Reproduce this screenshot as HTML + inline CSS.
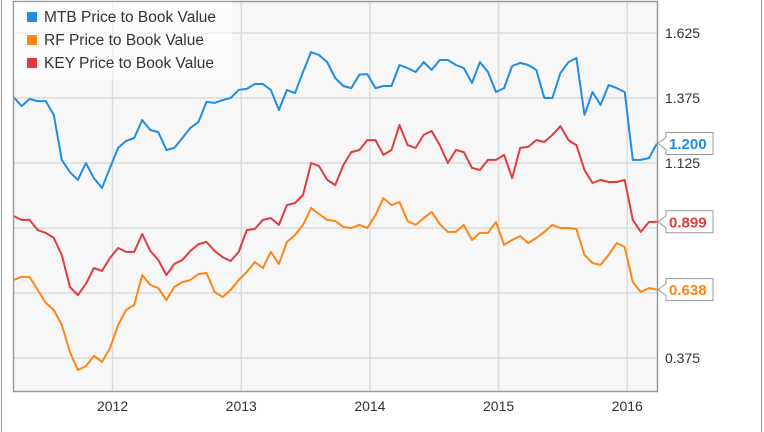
<!DOCTYPE html>
<html><head><meta charset="utf-8"><style>
body{margin:0;background:#fff;}
svg{display:block;font-family:"Liberation Sans",sans-serif;}
</style></head><body>
<svg id="chart" width="764" height="432" viewBox="0 0 764 432" xmlns="http://www.w3.org/2000/svg">
<rect x="0" y="0" width="764" height="432" fill="#fff"/>
<line x1="1.5" y1="0" x2="1.5" y2="432" stroke="#999"/>
<line x1="761.5" y1="0" x2="761.5" y2="432" stroke="#999"/>
<rect x="13.5" y="1.5" width="644" height="390" fill="#f7f7f7" stroke="none"/>
<g id="grid"></g>
<g id="series"></g>
<rect x="13.5" y="1.5" width="644" height="390" fill="none" stroke="#999" stroke-width="1.5"/>
<g id="axes"></g>
<g id="legend">
<rect x="14" y="2" width="218" height="78" fill="#fff" fill-opacity="0.6"/>
<g><rect x="27" y="12" width="10" height="10" fill="#1f8ce6"/><text x="44" y="22" font-size="15.5" fill="#333">MTB Price to Book Value</text></g>
<g><rect x="27" y="35" width="10" height="10" fill="#ff8515"/><text x="44" y="45" font-size="15.5" fill="#333">RF Price to Book Value</text></g>
<g><rect x="27" y="58" width="10" height="10" fill="#e23b3f"/><text x="44" y="68" font-size="15.5" fill="#333">KEY Price to Book Value</text></g>
</g>
<g id="badges"></g>
</svg>
<script>
const dates=[2011.230,2011.293,2011.355,2011.418,2011.480,2011.543,2011.605,2011.668,2011.730,2011.793,2011.855,2011.918,2011.980,2012.043,2012.105,2012.168,
2012.230,2012.293,2012.355,2012.418,2012.480,2012.543,2012.605,2012.668,2012.730,2012.793,2012.855,2012.918,2012.980,2013.043,2013.105,2013.168,
2013.230,2013.293,2013.355,2013.418,2013.480,2013.543,2013.605,2013.668,2013.730,2013.793,2013.855,2013.918,2013.980,2014.043,2014.105,2014.168,
2014.230,2014.293,2014.355,2014.418,2014.480,2014.543,2014.605,2014.668,2014.730,2014.793,2014.855,2014.918,2014.980,2015.043,2015.105,2015.168,
2015.230,2015.293,2015.355,2015.418,2015.480,2015.543,2015.605,2015.668,2015.730,2015.793,2015.855,2015.918,2015.980,2016.043,2016.105,2016.168,2016.230];
const mtbValues=[1.379,1.344,1.371,1.363,1.363,1.310,1.137,1.090,1.060,1.125,1.067,1.029,1.106,1.183,1.210,1.221,
1.290,1.252,1.244,1.175,1.183,1.221,1.260,1.283,1.360,1.356,1.367,1.375,1.406,1.410,1.429,1.429,
1.406,1.329,1.406,1.394,1.475,1.552,1.540,1.513,1.452,1.421,1.413,1.465,1.467,1.413,1.421,1.421,
1.502,1.490,1.475,1.513,1.483,1.521,1.521,1.502,1.490,1.433,1.513,1.475,1.398,1.413,1.498,1.510,
1.502,1.483,1.375,1.375,1.471,1.513,1.529,1.310,1.398,1.348,1.425,1.413,1.398,1.137,1.137,1.144,1.200];
const rfValues=[0.675,0.687,0.687,0.637,0.587,0.560,0.502,0.398,0.329,0.344,0.383,0.360,0.413,0.502,0.560,0.579,
0.694,0.656,0.644,0.598,0.648,0.667,0.675,0.698,0.702,0.629,0.610,0.637,0.675,0.706,0.744,0.721,
0.783,0.737,0.821,0.848,0.887,0.952,0.929,0.906,0.902,0.879,0.875,0.887,0.875,0.925,0.990,0.963,
0.975,0.902,0.887,0.913,0.937,0.890,0.860,0.860,0.887,0.829,0.856,0.856,0.898,0.810,0.829,0.844,
0.817,0.837,0.860,0.887,0.875,0.875,0.871,0.771,0.740,0.733,0.771,0.817,0.802,0.667,0.629,0.644,0.638];
const keyValues=[0.921,0.906,0.906,0.867,0.856,0.837,0.771,0.648,0.617,0.660,0.721,0.710,0.760,0.798,0.783,0.783,
0.852,0.787,0.752,0.694,0.737,0.752,0.787,0.813,0.821,0.787,0.763,0.748,0.783,0.867,0.871,0.906,
0.913,0.887,0.963,0.971,1.002,1.125,1.113,1.060,1.040,1.117,1.167,1.175,1.213,1.213,1.156,1.175,
1.271,1.194,1.183,1.233,1.248,1.194,1.125,1.175,1.167,1.106,1.098,1.137,1.137,1.156,1.067,1.183,
1.187,1.213,1.206,1.233,1.267,1.213,1.194,1.098,1.048,1.060,1.052,1.052,1.060,0.906,0.860,0.898,0.899];
const yTicks=[1.625,1.375,1.125,0.875,0.625,0.375];
const yTickLabels=["1.625","1.375","1.125","","","0.375"];
const xTicks=[2012,2013,2014,2015,2016];
const xTickLabels=["2012","2013","2014","2015","2016"];

const NS="http://www.w3.org/2000/svg";
const X0=13.5,X1=657.5,T0=2011.23,T1=2016.235;
function xs(t){return X0+(t-T0)/(T1-T0)*(X1-X0);}
function ys(v){return 33+(1.625-v)*260;}
function mk(tag,attrs,parent){const e=document.createElementNS(NS,tag);for(const k in attrs)e.setAttribute(k,attrs[k]);parent.appendChild(e);return e;}
const grid=document.getElementById('grid'),axes=document.getElementById('axes');
yTicks.forEach((v,i)=>{
  const l=mk('line',{x1:X0,x2:X1,y1:ys(v),y2:ys(v),stroke:'#dcdcdc','stroke-width':1.5},grid);
  
  
  if(yTickLabels[i]){
    const t=mk('text',{x:665,y:ys(v)+5,'font-size':14,fill:'#333'},axes);
    t.textContent=yTickLabels[i];
    
    
  }
});
xTicks.forEach((v,i)=>{
  const l=mk('line',{x1:xs(v),x2:xs(v),y1:1.5,y2:391.5,stroke:'#dcdcdc','stroke-width':1.5},grid);
  
  
  const t=mk('text',{x:xs(v),y:411,'font-size':14,fill:'#333','text-anchor':'middle'},axes);
  t.textContent=xTickLabels[i];
  
  
});
const series=document.getElementById('series'),badges=document.getElementById('badges');
[[mtbValues,'#1f8ce6','mtb'],[keyValues,'#e23b3f','key'],[rfValues,'#ff8515','rf']].forEach(([vals,col,nm])=>{
  const d=vals.map((v,i)=>(i?'L':'M')+xs(dates[i]).toFixed(1)+','+ys(v).toFixed(1)).join(' ');
  const p=mk('path',{d:d,fill:'none',stroke:col,'stroke-width':2,'stroke-linejoin':'round'},series);
  
  
  const last=vals[vals.length-1],yy=ys(last);
  const g=mk('g',{},badges);
  
  
  mk('path',{d:`M658,${yy} L666,${yy-6} L666,${yy-11} L713,${yy-11} L713,${yy+11} L666,${yy+11} L666,${yy+6} Z`,fill:'#fff',stroke:'#999','stroke-width':1},g);
  const t=mk('text',{x:669,y:yy+5.5,'font-size':15,'font-weight':'bold',fill:col},g);
  t.textContent=last.toFixed(3);
});
</script>
</body></html>
